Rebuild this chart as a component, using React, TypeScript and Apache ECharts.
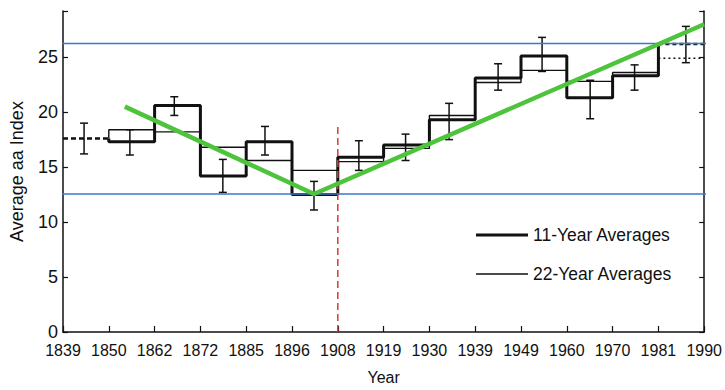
import React, { useEffect, useRef } from "react";
import * as echarts from "echarts";

// Solar-cycle boundary years, plotted at equal spacing (index 0..14)
const years = ["1839", "1850", "1862", "1872", "1885", "1896", "1908", "1919", "1930", "1939", "1949", "1960", "1970", "1981", "1990"];
// Averages per cycle (cycle i spans years[i]..years[i+1]); cycles 0 and 13 are partial (dashed)
const avg11 = [17.6, 17.3, 20.6, 14.2, 17.3, 12.5, 15.9, 17.0, 19.3, 23.1, 25.1, 21.3, 23.3, 26.2];
const avg22 = [17.6, 18.4, 18.2, 16.8, 15.6, 14.7, 15.5, 16.7, 19.7, 22.7, 23.8, 22.8, 23.6, 24.9];
// Error bars
const errX = [0.46, 1.46, 2.43, 3.49, 4.41, 5.48, 6.46, 7.48, 8.43, 9.5, 10.46, 11.51, 12.48, 13.6];
const errLow = [16.2, 16.1, 19.7, 12.7, 16.1, 11.1, 14.7, 15.6, 17.5, 22.0, 23.7, 19.4, 22.0, 24.5];
const errHigh = [19.0, 18.4, 21.4, 15.7, 18.7, 13.7, 17.4, 18.0, 20.8, 24.4, 26.8, 22.9, 24.3, 27.8];
// Green trend line
const trendX = [1.35, 5.48, 14.0];
const trendY = [20.5, 12.55, 28.0];
// Blue reference levels
const refLevels = [26.25, 12.55];
const refSpan = [-0.41, 14.08];
// Red dashed divider
const dividerX = 6;
const dividerTop = 19.0;

const FONT = "'Liberation Sans', Arial, Helvetica, sans-serif";
const INK = "#111";

function stepPoints(vals: number[]) {
  const pts: number[][] = [[1, vals[0]]];
  for (let i = 1; i <= 12; i++) {
    pts.push([i, vals[i]]);
    pts.push([i + 1, vals[i]]);
  }
  pts.push([13, vals[13]]);
  return pts;
}

export default function App() {
  const ref = useRef<HTMLDivElement>(null);
  useEffect(() => {
    if (!ref.current) return;
    const chart = echarts.init(ref.current, null, { renderer: "svg" });
    const series: any[] = [
      {
        name: "11-Year Averages",
        type: "line",
        data: stepPoints(avg11),
        symbol: "none",
        color: INK,
        lineStyle: { color: INK, width: 3 },
        z: 2,
      },
      {
        name: "11-Year Averages",
        type: "line",
        data: [[0, avg11[0]], [1, avg11[0]]],
        symbol: "none",
        color: INK,
        lineStyle: { color: INK, width: 2.5, type: [5, 3] },
        z: 2,
      },
      {
        name: "11-Year Averages",
        type: "line",
        data: [[13, avg11[13]], [14, avg11[13]]],
        symbol: "none",
        color: INK,
        lineStyle: { color: INK, width: 2.5, type: [4, 3] },
        z: 2,
      },
      {
        name: "22-Year Averages",
        type: "line",
        data: stepPoints(avg22),
        symbol: "none",
        color: INK,
        lineStyle: { color: INK, width: 1.4 },
        z: 2,
      },
      {
        name: "22-Year Averages",
        type: "line",
        data: [[13, avg22[13]], [14, avg22[13]]],
        symbol: "none",
        color: INK,
        lineStyle: { color: INK, width: 1.5, type: [2, 3] },
        z: 2,
      },
      {
        name: "errors",
        type: "custom",
        data: errX.map((x, i) => [x, errLow[i], errHigh[i]]),
        encode: { x: 0, y: [1, 2] },
        z: 3,
        renderItem: (params: any, api: any) => {
          const x = api.value(0);
          const lo = api.coord([x, api.value(1)]);
          const hi = api.coord([x, api.value(2)]);
          const w = 4;
          const st = { stroke: INK, lineWidth: 1.5 };
          return {
            type: "group",
            children: [
              { type: "line", shape: { x1: lo[0], y1: lo[1], x2: hi[0], y2: hi[1] }, style: st },
              { type: "line", shape: { x1: lo[0] - w, y1: lo[1], x2: lo[0] + w, y2: lo[1] }, style: st },
              { type: "line", shape: { x1: hi[0] - w, y1: hi[1], x2: hi[0] + w, y2: hi[1] }, style: st },
            ],
          };
        },
      },
      ...refLevels.map((lvl) => ({
        name: "ref",
        type: "line",
        data: [[refSpan[0], lvl], [refSpan[1], lvl]],
        symbol: "none",
        clip: false,
        lineStyle: { color: "#3a78c8", width: 1.5 },
        z: 4,
      })),
      {
        name: "divider",
        type: "line",
        data: [[dividerX, 0], [dividerX, dividerTop]],
        symbol: "none",
        lineStyle: { color: "#d93a32", width: 1.5, type: [7, 4] },
        z: 4,
      },
      {
        name: "trend",
        type: "line",
        data: trendX.map((x, i) => [x, trendY[i]]),
        symbol: "none",
        lineStyle: { color: "#4ec43c", width: 4.5 },
        z: 5,
      },
    ];

    const yCommon = {
      type: "value",
      min: 0,
      max: 29.2,
      interval: 5,
      splitLine: { show: false },
      axisLine: { show: true, lineStyle: { color: INK, width: 1.5 } },
      axisTick: { show: true, inside: true, length: 5, lineStyle: { color: INK, width: 1.2 } },
    };

    chart.setOption({
      animation: false,
      backgroundColor: "#fff",
      grid: { left: 62, right: 18, top: 11, bottom: 56 },
      legend: [
        {
          data: ["11-Year Averages"],
          left: 476,
          top: 226,
          padding: 0,
          icon: "rect",
          itemWidth: 52,
          itemHeight: 3,
          selectedMode: false,
          textStyle: { fontSize: 17.5, color: INK, fontFamily: FONT },
        },
        {
          data: ["22-Year Averages"],
          left: 476,
          top: 265,
          padding: 0,
          icon: "rect",
          itemWidth: 52,
          itemHeight: 1.5,
          selectedMode: false,
          textStyle: { fontSize: 17.5, color: INK, fontFamily: FONT },
        },
      ],
      xAxis: {
        type: "value",
        min: 0,
        max: 14,
        interval: 1,
        name: "Year",
        nameLocation: "middle",
        nameGap: 37,
        nameTextStyle: { fontSize: 16, color: INK, fontFamily: FONT },
        splitLine: { show: false },
        axisLine: { show: true, lineStyle: { color: INK, width: 1.5 } },
        axisTick: { show: true, inside: true, length: 6, lineStyle: { color: INK, width: 1.2 } },
        axisLabel: {
          margin: 10,
          fontSize: 16,
          color: INK,
          fontFamily: FONT,
          formatter: (v: number) => years[Math.round(v)] ?? "",
        },
      },
      yAxis: [
        {
          ...yCommon,
          position: "left",
          name: "Average aa Index",
          nameLocation: "middle",
          nameGap: 37,
          nameRotate: 90,
          nameTextStyle: { fontSize: 18, color: INK, fontFamily: FONT },
          axisLabel: {
            margin: 5,
            fontSize: 18,
            color: INK,
            fontFamily: FONT,
            formatter: (v: number) => (Math.abs(v % 5) < 1e-6 ? String(v) : ""),
          },
        },
        {
          ...yCommon,
          position: "right",
          axisLabel: { show: false },
        },
      ],
      series,
    });
    return () => chart.dispose();
  }, []);
  return (
    <div
      ref={ref}
      style={{ position: "fixed", left: 0, top: 0, width: 725, height: 390, background: "#fff" }}
    />
  );
}
